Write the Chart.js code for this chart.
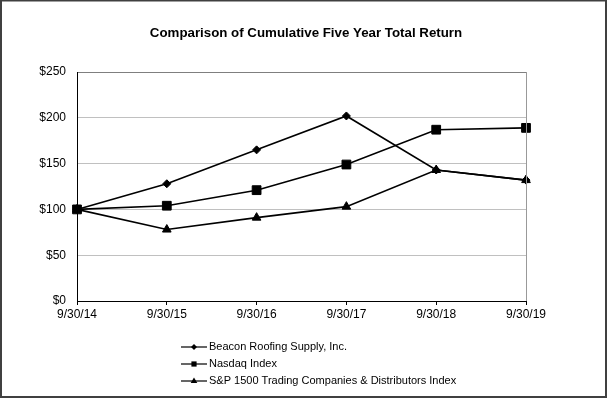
<!DOCTYPE html>
<html>
<head>
<meta charset="utf-8">
<script src="https://cdn.jsdelivr.net/npm/chart.js@4"></script>
<style>
    body { margin: 0; background: #fff; }
    canvas { display: block; }
</style>
</head>
<body>
<canvas id="chartRetorno" width="607" height="398"></canvas>
<script>
const fechas = ['9/30/14', '9/30/15', '9/30/16', '9/30/17', '9/30/18', '9/30/19'];
const beacon = [100, 128, 165, 202, 143, 132];
const nasdaq = [100, 104, 121, 149, 187, 189];
const sp1500 = [100, 78, 91, 103, 143, 132];
const nombres = [
    'Beacon Roofing Supply, Inc.',
    'Nasdaq Index',
    'S&P 1500 Trading Companies & Distributors Index'
];
const titulo = 'Comparison of Cumulative Five Year Total Return';

const FUENTE = '"Liberation Sans", Arial, sans-serif';

// Dibujar un marcador simple
function marcador(ctx, tipo, x, y, r) {
    ctx.beginPath();
    if (tipo === 'rectRot') {
        ctx.moveTo(x, y - r);
        ctx.lineTo(x + r, y);
        ctx.lineTo(x, y + r);
        ctx.lineTo(x - r, y);
    } else if (tipo === 'rect') {
        ctx.rect(x - r, y - r, 2 * r, 2 * r);
    } else {
        ctx.moveTo(x, y - r);
        ctx.lineTo(x + r * 0.95, y + r * 0.6);
        ctx.lineTo(x - r * 0.95, y + r * 0.6);
    }
    ctx.closePath();
    ctx.fill();
}

// Título, leyenda vertical y bordes
const extras = {
    id: 'extras',
    afterDraw(chart) {
        const ctx = chart.ctx;
        const area = chart.chartArea;
        ctx.save();

        // borde derecho del área
        ctx.strokeStyle = '#999999';
        ctx.lineWidth = 1;
        ctx.beginPath();
        ctx.moveTo(area.right + 0.5, area.top);
        ctx.lineTo(area.right + 0.5, area.bottom);
        ctx.stroke();

        // título
        ctx.fillStyle = '#000';
        ctx.font = 'bold 13.3px ' + FUENTE;
        ctx.textAlign = 'center';
        ctx.textBaseline = 'middle';
        ctx.fillText(titulo, 306, 33);

        // leyenda
        ctx.font = '11px ' + FUENTE;
        ctx.textAlign = 'left';
        const tamanos = { rectRot: 3, rect: 2.6, triangle: 3.5 };
        chart.data.datasets.forEach((ds, i) => {
            const y = 347 + i * 17;
            ctx.strokeStyle = '#000';
            ctx.lineWidth = 1.2;
            ctx.beginPath();
            ctx.moveTo(181, y);
            ctx.lineTo(207, y);
            ctx.stroke();
            ctx.fillStyle = '#000';
            marcador(ctx, ds.pointStyle, 194, y, tamanos[ds.pointStyle]);
            ctx.fillText(ds.label, 209, y);
        });

        // borde de la imagen
        ctx.strokeStyle = '#404040';
        ctx.lineWidth = 2;
        ctx.strokeRect(1, 0.5, 605, 396.5);
        ctx.restore();
    }
};

function serie(label, data, estilo, radio) {
    return {
        label: label,
        data: data,
        borderColor: '#000',
        backgroundColor: '#000',
        borderWidth: 1.6,
        pointStyle: estilo,
        pointRadius: radio,
        pointHoverRadius: radio,
        pointBackgroundColor: '#000',
        pointBorderColor: '#000',
        pointBorderWidth: 1,
        tension: 0,
        fill: false
    };
}

const ctxRetorno = document.getElementById('chartRetorno').getContext('2d');
const chartRetorno = new Chart(ctxRetorno, {
    type: 'line',
    data: {
        labels: fechas,
        datasets: [
            serie(nombres[0], beacon, 'rectRot', 4),
            serie(nombres[1], nasdaq, 'rect', 6.2),
            serie(nombres[2], sp1500, 'triangle', 5)
        ]
    },
    options: {
        responsive: false,
        animation: false,
        layout: {
            padding: { left: 0, top: 72, right: 81, bottom: 73 }
        },
        plugins: {
            legend: { display: false },
            title: { display: false },
            tooltip: { enabled: false }
        },
        scales: {
            x: {
                offset: false,
                grid: {
                    drawOnChartArea: false,
                    drawTicks: true,
                    tickLength: 4,
                    tickColor: '#000'
                },
                border: { color: '#000', width: 1 },
                ticks: {
                    color: '#000',
                    font: { family: FUENTE, size: 12 },
                    padding: 2,
                    maxRotation: 0,
                    autoSkip: false
                },
                afterFit: s => {
                    s.height = 24;
                    s.paddingLeft = 0;
                    s.paddingRight = 0;
                }
            },
            y: {
                min: 0,
                max: 250,
                grid: {
                    drawTicks: false,
                    color: c => {
                        if (c.tick.value === 250) return '#7f7f7f';
                        if (c.tick.value === 0) return 'rgba(0,0,0,0)';
                        return '#c0c0c0';
                    }
                },
                border: { color: '#000', width: 1 },
                ticks: {
                    stepSize: 50,
                    color: '#000',
                    padding: 11,
                    font: { family: FUENTE, size: 12 },
                    callback: v => '$' + v
                },
                afterFit: s => {
                    s.width = 77;
                    s.paddingTop = 0;
                    s.paddingBottom = 0;
                }
            }
        }
    },
    plugins: [extras]
});
</script>
</body>
</html>
